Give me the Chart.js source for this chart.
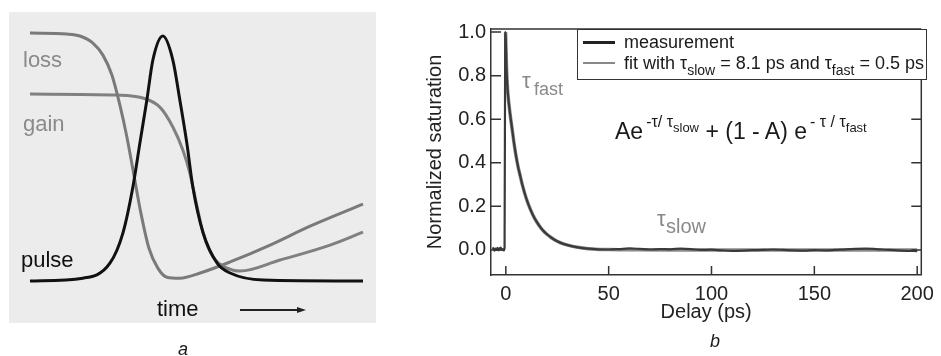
<!DOCTYPE html>
<html>
<head>
<meta charset="utf-8">
<script src="https://cdn.jsdelivr.net/npm/chart.js@4.4.1/dist/chart.umd.min.js"></script>
<style>
  body { margin: 0; width: 941px; height: 356px; background: #fff; position: relative; overflow: hidden;
         font-family: "Liberation Sans", Arial, sans-serif; color: #1a1a1a; }
  .t { position: absolute; line-height: 1; white-space: nowrap; }
  .grey { color: #8a8a8a; }
  #panelA { position: absolute; left: 9px; top: 12px; width: 367px; height: 311px; background: #ececec; }
  #panelB { position: absolute; left: 420px; top: 0; width: 521px; height: 356px; }
  #legend { position: absolute; left: 577px; top: 29px; width: 348px; height: 49px;
            border: 1.5px solid #333; background: #fff; }
  .sw { position: absolute; left: 5px; width: 32px; }
</style>
</head>
<body>

<div id="panelA"><canvas id="chartA" width="367" height="311"></canvas></div>
<div id="panelB"><canvas id="chartB" width="521" height="356"></canvas></div>

<!-- panel a labels -->
<div class="t grey" style="left:23px;top:49px;font-size:22px">loss</div>
<div class="t grey" style="left:23px;top:113px;font-size:22px">gain</div>
<div class="t" style="left:21px;top:249px;font-size:22px;color:#111">pulse</div>
<div class="t" style="left:157px;top:298px;font-size:22px;color:#111">time</div>
<div style="position:absolute;left:240px;top:309px;width:58px;height:1.5px;background:#222"></div>
<div style="position:absolute;left:297px;top:306.5px;width:0;height:0;border-left:9px solid #222;border-top:3.5px solid transparent;border-bottom:3.5px solid transparent"></div>
<div class="t" style="left:178px;top:340px;font-size:18px;font-style:italic">a</div>

<!-- panel b annotations -->
<div class="t grey" style="left:522px;top:70px;font-size:22px">τ</div>
<div class="t grey" style="left:534px;top:80px;font-size:18px">fast</div>
<div class="t grey" style="left:657px;top:208px;font-size:22px">τ</div>
<div class="t grey" style="left:666px;top:216px;font-size:20px">slow</div>

<div class="t" style="left:615px;top:119.5px;font-size:23px">Ae<span style="font-size:16px;position:relative;top:-12px;margin-left:3px">-τ/ τ</span><span style="font-size:13px;position:relative;top:-7px">slow</span>&nbsp;+ (1 - A) e<span style="font-size:16px;position:relative;top:-12px;margin-left:3px">- τ / τ</span><span style="font-size:13px;position:relative;top:-7px">fast</span></div>

<div id="legend">
  <div class="sw" style="top:11px;height:3px;background:#222"></div>
  <div class="sw" style="top:32px;height:1.5px;background:#888"></div>
  <div class="t" style="left:46px;top:3px;font-size:18px">measurement</div>
  <div class="t" style="left:46px;top:24px;font-size:18px">fit with τ<span style="font-size:14px;position:relative;top:6px">slow</span> = 8.1 ps and τ<span style="font-size:14px;position:relative;top:6px">fast</span> = 0.5 ps</div>
</div>

<div class="t" style="left:710px;top:332px;font-size:18px;font-style:italic">b</div>

<script>
Chart.defaults.font.family = '"Liberation Sans", Arial, sans-serif';

// ---- panel a: sketch of loss / gain / pulse versus time (arbitrary units)
const timeLoss = [0, 11.1, 15, 18.9, 21.9, 24.6, 27, 29.1, 31.2, 33.3, 35.7, 38.4, 41.1, 45, 51.1, 60.1, 72.1, 84.1, 100];
const lossValues = [1.012, 1.008, 1.0, 0.971, 0.922, 0.841, 0.718, 0.588, 0.433, 0.278, 0.135, 0.053, 0.016, 0.012, 0.033, 0.078, 0.147, 0.224, 0.314];

const timeGain = [0, 26.1, 33.9, 39, 42.9, 45.9, 48, 50.2, 52, 55, 59.2, 63.1, 75.1, 90.1, 100];
const gainValues = [0.763, 0.759, 0.747, 0.710, 0.629, 0.535, 0.441, 0.302, 0.196, 0.098, 0.053, 0.041, 0.086, 0.147, 0.2];

const timePulse = [0, 15.9, 24, 27.9, 30.9, 33, 35.1, 36.9, 39.9, 42.9, 45, 47.1, 48.9, 52, 56.2, 60.1, 70, 100];
const pulseValues = [0, 0.012, 0.073, 0.196, 0.384, 0.563, 0.739, 0.902, 1.0, 0.902, 0.739, 0.563, 0.384, 0.196, 0.073, 0.033, 0.004, 0];

// ---- panel b: normalized saturation versus delay (ps)
const delayMeas = [-6.5, -6, -5.5, -5, -4.5, -4, -3.5, -3, -2.5, -2, -1.5, -1, -0.6, -0.3, -0.1, 0.1, 0.3, 0.6, 1,
  2, 3, 4, 5, 6, 7, 8, 10, 12, 14, 16, 18, 20, 22, 25, 28, 31, 35, 40, 45, 50,
  55, 60, 65, 70, 75, 80, 85, 90, 95, 100, 105, 110, 115, 120, 125, 130, 135, 140, 145, 150,
  155, 160, 165, 170, 175, 180, 185, 190, 195, 200];
const measValues = [0.004, 0.008, -0.003, 0.006, 0.0, 0.01, -0.002, 0.005, 0.011, 0.0, 0.004, -0.002, 0.008, 0.97, 1.0, 0.92, 0.85, 0.78, 0.72,
  0.63, 0.56, 0.49, 0.43, 0.38, 0.34, 0.30, 0.235, 0.185, 0.145, 0.115, 0.09, 0.072, 0.057, 0.04, 0.028, 0.02, 0.012, 0.006, 0.003, 0.002,
  0.004, 0.007, 0.005, 0.002, 0.004, 0.003, 0.006, 0.004, 0.0, 0.001, -0.002, -0.004, -0.003, -0.001, 0.0, 0.002, 0.0, -0.002, -0.003, -0.001,
  -0.002, 0.0, 0.003, 0.005, 0.006, 0.004, 0.001, -0.002, -0.004, -0.005];

const delayFit = [-0.1, 0.3, 0.6, 1, 2, 3, 4, 5, 6, 7, 8, 10, 12, 14, 16, 18, 20, 22, 25, 28, 31, 35, 40, 50, 60, 80, 100, 130, 160, 200];
const fitValues = [1.0, 0.85, 0.78, 0.72, 0.63, 0.56, 0.49, 0.43, 0.38, 0.34, 0.30, 0.235, 0.185, 0.145, 0.115, 0.09, 0.072, 0.057, 0.04, 0.028, 0.02, 0.012, 0.006, 0.002, 0.001, 0, 0, 0, 0, 0];

const xTicks = [0, 50, 100, 150, 200];
const yTicks = [0, 0.2, 0.4, 0.6, 0.8, 1.0];

const pts = (xs, ys) => xs.map((x, i) => ({ x, y: ys[i] }));

new Chart(document.getElementById('chartA'), {
  type: 'line',
  data: {
    datasets: [
      { data: pts(timePulse, pulseValues), borderColor: '#111', borderWidth: 3, pointRadius: 0, cubicInterpolationMode: 'monotone' },
      { data: pts(timeLoss, lossValues), borderColor: '#7a7a7a', borderWidth: 3, pointRadius: 0, cubicInterpolationMode: 'monotone' },
      { data: pts(timeGain, gainValues), borderColor: '#808080', borderWidth: 3, pointRadius: 0, cubicInterpolationMode: 'monotone' }
    ]
  },
  options: {
    responsive: false,
    animation: false,
    devicePixelRatio: 1,
    layout: { padding: 0 },
    plugins: { legend: { display: false }, tooltip: { enabled: false } },
    scales: {
      x: { type: 'linear', min: -6.3, max: 103.9, display: false },
      y: { min: -0.171, max: 1.098, display: false }
    }
  }
});

// frame round the plot area, with inward tick marks
const frameTicks = {
  id: 'frameTicks',
  afterDraw(chart) {
    const { ctx, chartArea: a, scales: { x, y } } = chart;
    ctx.save();
    ctx.strokeStyle = '#333';
    ctx.lineWidth = 1.5;
    ctx.beginPath();
    ctx.moveTo(a.left, a.top); ctx.lineTo(a.right, a.top);
    ctx.moveTo(a.right, a.top); ctx.lineTo(a.right, a.bottom);
    xTicks.forEach(v => {
      const px = x.getPixelForValue(v);
      ctx.moveTo(px, a.bottom); ctx.lineTo(px, a.bottom - 9);
    });
    yTicks.forEach(v => {
      const py = y.getPixelForValue(v);
      ctx.moveTo(a.left, py); ctx.lineTo(a.left + 10, py);
      ctx.moveTo(a.right, py); ctx.lineTo(a.right - 10, py);
    });
    ctx.stroke();
    ctx.restore();
  }
};

new Chart(document.getElementById('chartB'), {
  type: 'line',
  data: {
    datasets: [
      { label: 'measurement', data: pts(delayMeas, measValues), borderColor: '#3a3a3a', borderWidth: 2.2, pointRadius: 0, cubicInterpolationMode: 'monotone' },
      { label: 'fit', data: pts(delayFit, fitValues), borderColor: '#8c8c8c', borderWidth: 3.5, pointRadius: 0, cubicInterpolationMode: 'monotone' }
    ]
  },
  options: {
    responsive: false,
    animation: false,
    devicePixelRatio: 1,
    layout: { padding: { top: 29, right: 14, left: 0, bottom: 0 } },
    plugins: { legend: { display: false }, tooltip: { enabled: false } },
    scales: {
      x: {
        type: 'linear', min: -7.2, max: 202,
        afterBuildTicks: s => { s.ticks = xTicks.map(v => ({ value: v })); },
        afterFit: s => { s.height = 81; },
        grid: { display: false, drawTicks: false },
        border: { display: true, color: '#333', width: 1.5 },
        ticks: { color: '#222', font: { size: 20 }, padding: 7, maxRotation: 0, callback: v => String(v) },
        title: { display: true, text: 'Delay (ps)', color: '#222', font: { size: 20 }, padding: { top: 0, bottom: 32 } }
      },
      y: {
        min: -0.115, max: 1.014,
        afterBuildTicks: s => { s.ticks = yTicks.map(v => ({ value: v })); },
        afterFit: s => { s.width = 71; },
        grid: { display: false, drawTicks: false },
        border: { display: true, color: '#333', width: 1.5 },
        ticks: { color: '#222', font: { size: 20 }, padding: 5, callback: v => v.toFixed(1) },
        title: { display: true, text: 'Normalized saturation', color: '#222', font: { size: 20 }, padding: { top: 3, bottom: 0 } }
      }
    }
  },
  plugins: [frameTicks]
});
</script>
</body>
</html>
